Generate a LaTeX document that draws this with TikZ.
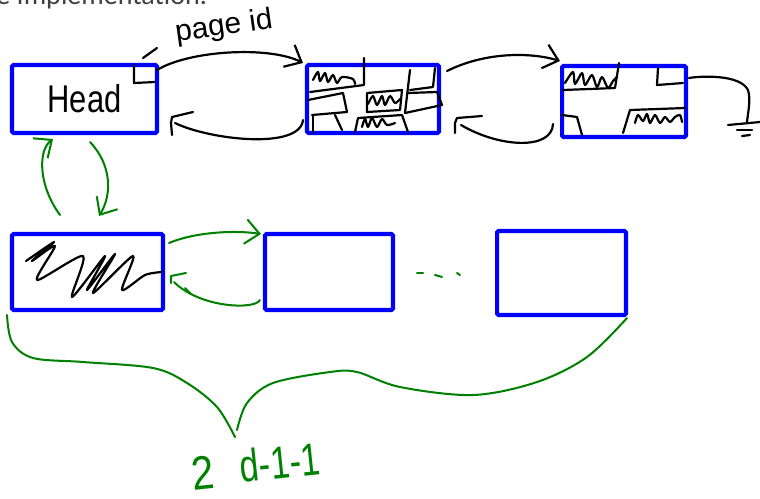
\documentclass[tikz,border=0pt]{standalone}
\usepackage{fontspec}
\usepackage{graphicx}
\setmainfont{Liberation Sans}
\newfontfamily\uifont{Carlito}
\usetikzlibrary{arrows.meta,calc}
\definecolor{inkgreen}{RGB}{0,128,0}
\definecolor{inkblue}{RGB}{0,0,255}
\definecolor{uigray}{RGB}{64,64,64}
\begin{document}
\begin{tikzpicture}[x=0.02cm,y=-0.02cm,
  blbox/.style={draw=inkblue,line width=2.3pt,rectangle,inner sep=0pt,rounded corners=0.8pt},
  ink/.style={draw=black,line width=1.25pt,line cap=round,line join=round},
  gink/.style={draw=inkgreen,line width=1.15pt,line cap=round,line join=round},
  barb/.style={-{Straight Barb[length=8pt,width=14pt]}},
  hand/.style={inner sep=0pt,font=\fontsize{#1}{#1}\selectfont},
]
\useasboundingbox (0,0) rectangle (760,498);
\clip (0,0) rectangle (760,498);

% cut-off title line
\node[anchor=base west,inner sep=0pt,text=uigray,font=\uifont\fontsize{16}{19}\selectfont] (title) at (-4,4) {e Implementation.};

% boxes
\node[blbox,minimum width=2.90cm,minimum height=1.36cm,font=\fontsize{22}{22}\selectfont] (head) at (84.5,99) {\scalebox{0.8}[1]{Head}};
\node[blbox,minimum width=2.64cm,minimum height=1.36cm] (p2) at (373,99) {};
\node[blbox,minimum width=2.48cm,minimum height=1.42cm] (p3) at (624,101.5) {};
\node[blbox,minimum width=3.02cm,minimum height=1.52cm] (b1) at (87.5,272) {};
\node[blbox,minimum width=2.56cm,minimum height=1.52cm] (b2) at (329,272) {};
\node[blbox,minimum width=2.58cm,minimum height=1.68cm] (b3) at (561.5,273) {};

% page id label
\node[hand=17,rotate=8,text=black] (pid) at (224,27) {page id};
\draw[ink] (143,58) -- (157,48);
\draw[ink] (134,65) -- (134,83) -- (155,82);

% scribbles in page 2
\draw[ink] plot[smooth,tension=0.5] coordinates {(313,80)(318,72)(320,81)(325,73)(328,82)(333,75)(337,83)(342,77)(353,79)(355,84)};
\draw[ink] (364,58) -- (364,85) -- (310,92);
\draw[ink] (308,100) -- (343,93) -- (347,112) -- (312,115);
\draw[ink] (313,115) -- (313,132);
\draw[ink] (335,115) -- (342,130);
\draw[ink] (367,93) -- (402,90) -- (400,110) -- (367,112) -- cycle;
\draw[ink] plot[smooth,tension=0.5] coordinates {(368,104)(373,96)(377,105)(382,96)(385,105)(390,96)(395,103)(400,99)};
\draw[ink] (410,70) -- (405,113);
\draw[ink] (435,68) -- (433,87) -- (410,90);
\draw[ink] (408,93) -- (437,92) -- (442,105) -- (405,113);
\draw[ink] (355,132) -- (358,118) -- (402,115) -- (408,132);
\draw[ink] plot[smooth,tension=0.5] coordinates {(362,127)(365,119)(368,127)(372,118)(377,127)(382,119)(387,125)(395,123)};

% scribbles in page 3
\draw[ink] plot[smooth,tension=0.5] coordinates {(565,83)(573,72)(575,84)(582,73)(585,85)(592,75)(597,87)(602,77)(608,88)(613,81)(617,77)};
\draw[ink] (619,63) -- (615,88) -- (563,90);
\draw[ink] (658,68) -- (657,85) -- (683,83);
\draw[ink] (562,115) -- (577,117) -- (582,135);
\draw[ink] (623,133) -- (630,110) -- (685,108);
\draw[ink] plot[smooth,tension=0.5] coordinates {(635,123)(638,115)(643,121)(647,114)(650,123)(655,115)(660,123)(665,117)(670,122)(675,117)(680,115)(682,122)};
% null pointer to ground
\coordinate (gnd) at (747,122);
\draw[ink] ($(p3.north east)+(1,14)$) .. controls (700,76) and (740,74) .. (748,90) .. controls (751,100) and (748,112) .. (gnd);
\draw[ink] (728,125) -- (760,122);
\draw[ink] (737,130) -- (752,130);
\draw[ink] (742,136) -- (750,135);

% black links
\draw[ink,barb] ($(head.north east)+(-2,7)$) .. controls (190,50) and (270,46) .. ($(p2.north west)+(-2,0)$);
\draw[ink] ($(p2.south west)+(-2,-15)$) .. controls (300,150) and (210,140) .. ($(head.south east)+(16,-12)$);
\draw[ink] (172,135) -- (171,123) -- (172,117) -- (193,112);
\draw[ink,barb] ($(p2.north east)+(6,8)$) .. controls (485,52) and (530,52) .. ($(p3.north west)+(0,-3)$);
\draw[ink] ($(p3.south west)+(-7,-15)$) .. controls (552,150) and (500,148) .. ($(p2.south east)+(20,-10)$);
\draw[ink] (455,133) -- (455,123) -- (457,118) -- (482,116);

% scribble in bucket 1
\draw[ink] plot[smooth,tension=0.45] coordinates {(26,261)(54,242)(32,261)(55,246)(37,280)(83,256)(72,297)(105,256)(87,290)(115,254)(93,293)(133,256)(122,290)(145,275)(162,272)};

% green links
\draw[gink,barb] ($(b1.north west)+(50,-17)$) .. controls (38,185) and (38,150) .. ($(head.south west)+(43,4)$);
\draw[gink,barb] ($(head.south west)+(80,7)$) .. controls (112,165) and (112,195) .. ($(b1.north west)+(89,-16)$);
\draw[gink,barb] ($(b1.north east)+(4,11)$) .. controls (195,232) and (235,230) .. ($(b2.north west)+(-2,2)$);
\draw[gink] ($(b2.south west)+(-3,-12)$) .. controls (255,310) and (200,308) .. ($(b1.south east)+(9,-30)$);
\draw[gink] (171,283) -- (171,276) -- (186,273);
\draw[gink] (185,288) -- (191,294);

% dots
\draw[gink] (417,273) -- (423,273);
\draw[gink] (435,275) -- (442,277);
\draw[gink] (457,273) -- (460,275);

% brace
\draw[gink] plot[smooth,tension=0.55] coordinates {(7,315)(12,342)(33,358)(83,362)(153,368)(187,383)(217,407)(235,437)};
\draw[gink] plot[smooth,tension=0.55] coordinates {(237,430)(247,403)(273,383)(330,372)(357,372)(400,387)(473,395)(537,382)(587,357)(627,318)};

% label
\node[hand=27,rotate=6,text=inkgreen] (two) at (203,473) {\scalebox{0.85}[1]{2}};
\node[hand=26,rotate=6,text=inkgreen] (exp) at (280,462) {\scalebox{0.75}[1]{d-1-1}};
\end{tikzpicture}
\end{document}
